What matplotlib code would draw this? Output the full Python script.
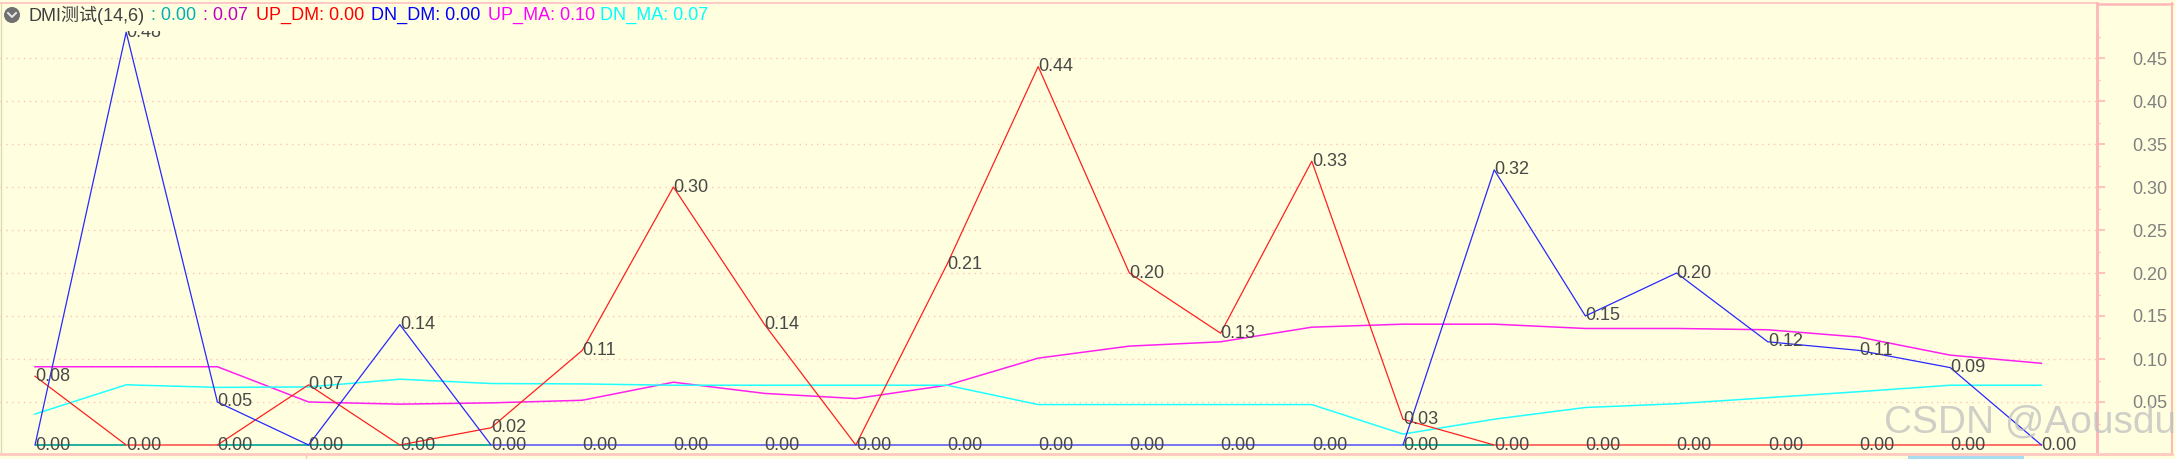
# DMI测试 indicator, screenshot style
import numpy as np
import matplotlib
matplotlib.use('Agg')
import matplotlib.pyplot as plt
from matplotlib.patches import Circle, Rectangle

plt.rcParams['font.family'] = ['Liberation Sans', 'Noto Sans CJK SC', 'DejaVu Sans']

# Values
up_dm = [0.08, 0, 0, 0.07, 0, 0.02, 0.11, 0.30, 0.14, 0, 0.21, 0.44,
         0.20, 0.13, 0.33, 0.03, 0, 0, 0, 0, 0, 0, 0]
dn_dm = [0, 0.48, 0.05, 0, 0.14, 0, 0, 0, 0, 0, 0, 0,
         0, 0, 0, 0, 0.32, 0.15, 0.20, 0.12, 0.11, 0.09, 0]
up_ma = [0.091, 0.091, 0.091, 0.050, 0.0475, 0.049, 0.052, 0.073, 0.060, 0.054, 0.0695, 0.101,
         0.115, 0.120, 0.137, 0.1405, 0.1405, 0.1355, 0.1355, 0.134, 0.1255, 0.1045, 0.095]
dn_ma = [0.036, 0.070, 0.067, 0.0675, 0.0765, 0.0715, 0.071, 0.0695, 0.0695, 0.0695, 0.0695, 0.047,
         0.047, 0.047, 0.047, 0.0127, 0.030, 0.0436, 0.048, 0.055, 0.062, 0.0695, 0.0695]
base = [0] * 23
y_ticks = [0.05, 0.10, 0.15, 0.20, 0.25, 0.30, 0.35, 0.40, 0.45]
y_minor = [0.025, 0.075, 0.125, 0.175, 0.225, 0.275, 0.325, 0.375, 0.425, 0.475]

title_parts = [('DMI测试(14,6)', 28, '#404040'), (': 0.00', 151, '#00b0b0'), (': 0.07', 203, '#c000c0'),
               ('UP_DM: 0.00', 256, '#ff0000'), ('DN_DM: 0.00', 371, '#0000ff'),
               ('UP_MA: 0.10', 488, '#ff00ff'), ('DN_MA: 0.07', 600, '#00ffff')]

W, H = 2176, 459
bg = '#ffffe0'
pink = '#ffb8b8'
x = np.arange(len(up_dm))

fig = plt.figure(figsize=(W / 100, H / 100), dpi=100, facecolor=bg)
ax = fig.add_axes([0, (H - 454) / H, 2097 / W, (454 - 31) / H], facecolor=bg)

# Teal base only shows where red and blue are not lying on zero
for i in range(len(x) - 1):
    red_flat = up_dm[i] == 0 and up_dm[i + 1] == 0
    blue_flat = dn_dm[i] == 0 and dn_dm[i + 1] == 0
    if not red_flat and not blue_flat:
        ax.plot(x[i:i + 2], base[i:i + 2], color='#20b0a0', lw=1.4, zorder=2, solid_capstyle='butt')

ax.plot(x, up_ma, color='#ff20f0', lw=1.1, zorder=3)
ax.plot(x, dn_ma, color='#20ffff', lw=1.1, zorder=3)
ax.plot(x, up_dm, color='#ff2020', lw=0.9, zorder=4)
ax.plot(x, dn_dm, color='#2828ff', lw=0.9, zorder=4)

# Value labels, one per value
for xi, a, b in zip(x, up_dm, dn_dm):
    for v in sorted({a, b}):
        ax.text(xi, v, f'{v:.2f}', color='#484848', fontsize=13, ha='left', va='center',
                clip_on=True, zorder=5)

ax.set_xlim(-35 / 91.2, (2097 - 35) / 91.2)
ax.set_ylim(-9 / 860, 414 / 860)
ax.set_xticks([])
ax.set_yticks(y_ticks)
ax.set_yticks(y_minor, minor=True)
ax.set_yticklabels([f'{t:.2f}' for t in y_ticks])
ax.yaxis.tick_right()
ax.tick_params(axis='y', which='major', length=5.5, width=1.2, color=pink, labelcolor='#808080',
               labelsize=13, pad=20)
ax.tick_params(axis='y', which='minor', length=2.5, width=1, color=pink)
ax.grid(True, axis='y', color='#ffc0b8', lw=1, linestyle=(0, (1, 3.2)))
ax.set_axisbelow(True)
for side in ['top', 'left', 'bottom']:
    ax.spines[side].set_visible(False)
ax.spines['right'].set_color(pink)
ax.spines['right'].set_linewidth(2)

# Overlay in pixels: frame, title row, watermark
ov = fig.add_axes([0, 0, 1, 1], facecolor='none', zorder=10)
ov.set_xlim(0, W)
ov.set_ylim(H, 0)
ov.axis('off')
ov.plot([0, 2097], [2.5, 2.5], color='#ffc0c0', lw=1.2)
ov.plot([2097, 2172], [3.5, 3.5], color=pink, lw=1.8)
ov.plot([2097, 2097], [3, 454], color=pink, lw=2)
ov.plot([2172, 2172], [3, 454], color=pink, lw=1.5)
ov.plot([0.5, 0.5], [2, 454], color='#e0d8b0', lw=1)
ov.plot([0, 2172], [454, 454], color='#ffc8c0', lw=2)
ov.plot([306, 306], [455, 459], color='#ffc8c0', lw=1)
ov.add_patch(Rectangle((1908, 456), 116, 3, color='#a8dcf0', lw=0))

ov.add_patch(Circle((12, 15), 8, color='#707070', lw=0))
ov.plot([8, 12, 16], [13, 17, 13], color='#e8e8e8', lw=1.4)
for txt, px, col in title_parts:
    ov.text(px, 15, txt, color=col, fontsize=13, ha='left', va='center')

ov.text(1884, 422, 'CSDN @Aousdu', color='#c0c0c0', alpha=0.75, fontsize=28, ha='left', va='center')

fig.savefig('out.png', dpi=100, facecolor=bg)
